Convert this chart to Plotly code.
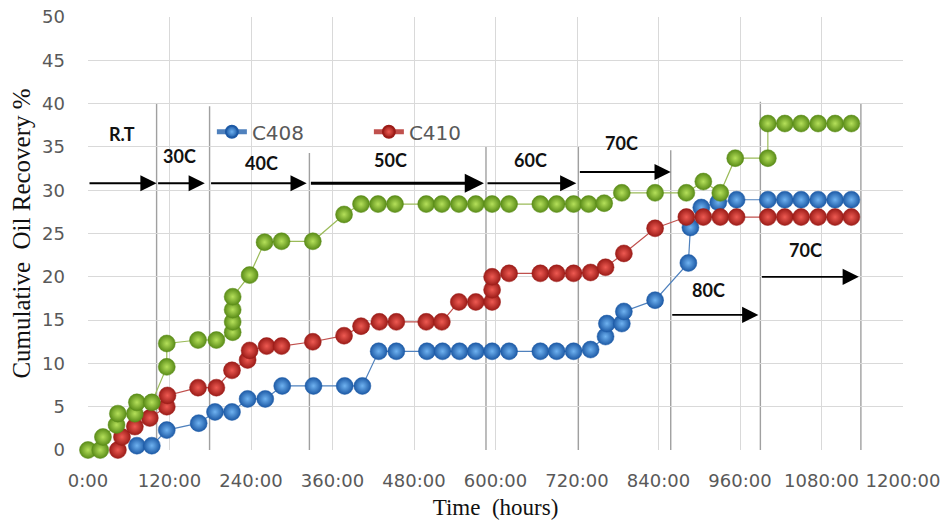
import plotly.graph_objects as go

# ---------------- data ----------------
hours_c408 = [72, 94, 116, 163, 187, 212, 235, 261, 286, 332, 378, 404, 428, 454, 499, 522,
              547, 571, 595, 620, 666, 690, 715, 740, 762, 764, 786, 789, 835, 884, 887, 903,
              928, 955, 1001, 1026, 1050, 1075, 1100, 1124]
rec_c408 = [0.5, 0.5, 2.3, 3.1, 4.4, 4.4, 5.9, 5.9, 7.4, 7.4, 7.4, 7.4, 11.4, 11.4, 11.4, 11.4,
            11.4, 11.4, 11.4, 11.4, 11.4, 11.4, 11.4, 11.6, 13.1, 14.6, 14.6, 16.0, 17.3, 21.6, 25.7, 28.0,
            28.6, 28.9, 28.9, 28.9, 28.9, 28.9, 28.9, 28.9]

hours_c410 = [44, 50, 69, 91, 116, 117, 162, 189, 212, 235, 238, 263, 285, 331, 377, 402,
              429, 454, 498, 521, 546, 571, 595, 595, 595, 620, 666, 690, 715, 740, 762, 789,
              835, 881, 906, 931, 955, 1001, 1026, 1050, 1075, 1100, 1124]
rec_c410 = [0.0, 1.5, 2.7, 3.7, 5.0, 6.3, 7.2, 7.2, 9.2, 10.4, 11.5, 12.0, 12.0, 12.5, 13.2, 14.3,
            14.8, 14.8, 14.8, 14.8, 17.1, 17.1, 17.1, 18.5, 20.0, 20.4, 20.4, 20.4, 20.4, 20.5, 21.1, 22.7,
            25.6, 26.9, 26.9, 26.9, 26.9, 26.9, 26.9, 26.9, 26.9, 26.9, 26.9]

hours_c3 = [0, 18, 22, 42, 44, 69, 72, 94, 116, 116, 162, 189, 213, 213, 213, 213, 238, 260, 285,
            331, 377, 402, 427, 452, 498, 521, 546, 571, 595, 620, 666, 690, 715, 737, 760, 786,
            835, 881, 906, 931, 953, 1001, 1001, 1026, 1050, 1075, 1100, 1124]
rec_c3 = [0.0, 0.0, 1.5, 2.9, 4.2, 4.2, 5.5, 5.5, 9.6, 12.3, 12.7, 12.7, 13.6, 14.8, 16.2, 17.7, 20.2, 24.0, 24.1,
          24.1, 27.2, 28.4, 28.4, 28.4, 28.4, 28.4, 28.4, 28.4, 28.4, 28.4, 28.4, 28.4, 28.4, 28.4, 28.5, 29.7,
          29.7, 29.7, 31.0, 29.7, 33.7, 33.7, 37.7, 37.7, 37.7, 37.7, 37.7, 37.7]

tick_hours = [0, 120, 240, 360, 480, 600, 720, 840, 960, 1080, 1200]
tick_labels = ["0:00", "120:00", "240:00", "360:00", "480:00", "600:00", "720:00",
               "840:00", "960:00", "1080:00", "1200:00"]

# temperature stages
phase_names = ["R.T", "30C", "40C", "50C", "60C", "70C", "80C", "70C"]
phase_start = [0, 101, 179, 326, 586, 722, 858, 990]
phase_end = [101, 172, 322, 583, 719, 858, 987, 1135]

# ---------------- layout helpers (positions) ----------------
arrow_y = [30.8, 30.8, 30.8, 30.8, 30.8, 32.1, 15.6, 20.0]
arrow_w = [1.8, 1.8, 1.8, 3.2, 1.8, 1.8, 1.8, 1.8]
label_x = [50, 135, 255, 446, 652, 786, 913, 1056]
label_y = [36.5, 34.0, 33.1, 33.5, 33.5, 35.4, 18.5, 23.1]
boundary_hours = [101, 179, 326, 586, 722, 858, 990, 1138]
boundary_tops = [40.0, 39.7, 34.3, 35.0, 35.0, 34.6, 40.2, 40.0]

fig = go.Figure()


def add_series(x, y, name, light, edge, line, show):
    fig.add_trace(go.Scatter(
        x=x, y=y, mode="lines+markers", name=name, showlegend=show,
        line=dict(color=line, width=1.2),
        marker=dict(size=17, color=edge, line=dict(width=0.5, color=edge),
                    gradient=dict(type="radial", color=light)),
        cliponaxis=False,
    ))


add_series(hours_c408, rec_c408, "C408", "#6fb2f0", "#1d5aa6", "#4f81bd", True)
add_series(hours_c410, rec_c410, "C410", "#ee5a52", "#9c1c18", "#c0504d", True)
add_series(hours_c3, rec_c3, "Series 3", "#b5e05a", "#5a8c18", "#9bbb59", False)

shapes = []
for bx, top in zip(boundary_hours, boundary_tops):
    shapes.append(dict(type="line", xref="x", yref="y", x0=bx, x1=bx, y0=0, y1=top,
                       line=dict(color="#a0a0a0", width=1.4), layer="below"))

annotations = []
for i in range(len(phase_names)):
    annotations.append(dict(
        x=phase_end[i], y=arrow_y[i], ax=phase_start[i], ay=arrow_y[i],
        xref="x", yref="y", axref="x", ayref="y", text="", showarrow=True,
        arrowhead=2, arrowsize=1.8 if arrow_w[i] < 3 else 1.2,
        arrowwidth=arrow_w[i], arrowcolor="black", standoff=0, startstandoff=0))
    annotations.append(dict(
        x=label_x[i], y=label_y[i], xref="x", yref="y", text="<b>%s</b>" % phase_names[i],
        showarrow=False, font=dict(family="Lato", size=18, color="#111111")))

fig.update_layout(
    width=950, height=524,
    margin=dict(l=88, r=47, t=17, b=74),
    paper_bgcolor="white", plot_bgcolor="white",
    shapes=shapes, annotations=annotations,
    legend=dict(orientation="h", x=0.152, y=0.735, xanchor="left", yanchor="middle",
                bgcolor="rgba(0,0,0,0)", font=dict(family="DejaVu Sans", size=20, color="#595959"),
                entrywidth=112, itemsizing="constant"),
    xaxis=dict(range=[0, 1200], tickvals=tick_hours, ticktext=tick_labels, automargin=False,
               showgrid=True, gridcolor="#d9d9d9", gridwidth=1, zeroline=False,
               showline=False, ticklabelstandoff=18,
               tickfont=dict(family="DejaVu Sans", size=18, color="#595959"),
               title=dict(text="Time  (hours)", standoff=8,
                          font=dict(family="Liberation Serif", size=23, color="#111111"))),
    yaxis=dict(range=[0, 50], dtick=5, showgrid=True, gridcolor="#d9d9d9", gridwidth=1,
               zeroline=False, showline=False, ticklabelstandoff=22, automargin=False,
               tickfont=dict(family="DejaVu Sans", size=18, color="#595959"),
               title=dict(text="Cumulative  Oil Recovery %", standoff=4,
                          font=dict(family="Liberation Serif", size=25, color="#111111"))),
)

fig.write_html("out.html", config={"displayModeBar": False},
               post_script="document.body.style.margin='0';")
